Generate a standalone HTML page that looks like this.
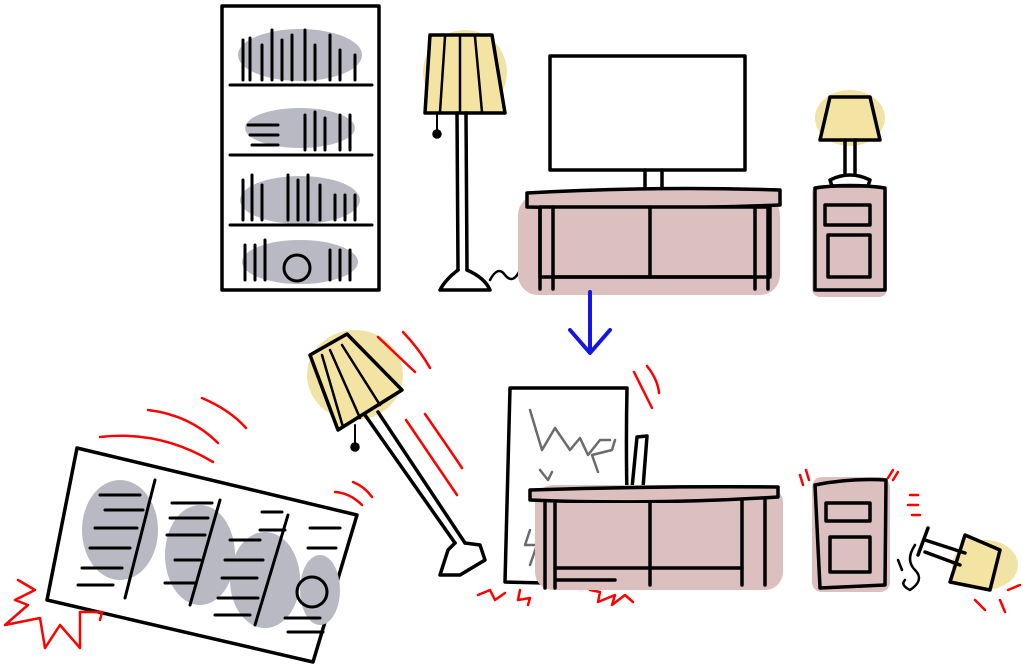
<!DOCTYPE html>
<html><head><meta charset="utf-8"><style>html,body{margin:0;padding:0;background:#fff}svg{display:block}</style></head>
<body>
<svg width="1023" height="670" viewBox="0 0 1023 670" xmlns="http://www.w3.org/2000/svg" fill="none" stroke="#000" stroke-width="3.5" stroke-linecap="round" stroke-linejoin="round">
<!-- TOP BOOKSHELF -->
<rect x="222" y="6" width="157" height="284" fill="#fff"/>
<g fill="#b8b9c2" stroke="none">
<ellipse cx="300" cy="55" rx="62" ry="26"/>
<ellipse cx="300" cy="128" rx="55" ry="20"/>
<ellipse cx="300" cy="200" rx="60" ry="24"/>
<ellipse cx="300" cy="262" rx="58" ry="22"/>
</g>
<g stroke-width="3">
<line x1="230" y1="85" x2="372" y2="85"/><line x1="230" y1="155" x2="372" y2="155"/><line x1="230" y1="225" x2="372" y2="225"/>
<path d="M243 40v40M250 38v42M262 45v35M272 30v50M282 40v40M292 35v45M305 30v50M315 45v35M330 35v45M340 50v30M355 55v25"/>
<path d="M248 125h30M250 135h28M252 145h26M305 115v35M315 112v38M325 118v32M340 115v35M350 115v35"/>
<path d="M243 180v40M252 175v45M262 185v35M288 175v45M298 180v40M308 175v45M320 185v35M335 195v25M345 195v25M355 195v25"/>
<path d="M245 245v35M255 245v35M265 240v40M330 250v30M340 250v30M350 250v30"/>
<circle cx="297" cy="268" r="13"/>
</g>
<!-- FLOOR LAMP -->
<ellipse cx="465" cy="72" rx="42" ry="42" fill="#f1e3a6" stroke="none"/>
<path d="M430 35 L492 35 L505 113 L425 113 Z" fill="#f4e4a3"/>
<path d="M445 37 L440 112M460 37 L460 112M475 37 L482 112" stroke-width="2.5"/>
<path d="M457 113 L458 270 M466 113 L467 270"/>
<path d="M458 270 Q445 280 440 290 L490 290 Q485 278 467 270"/>
<line x1="437" y1="113" x2="437" y2="132" stroke-width="2"/><circle cx="437" cy="134" r="3" fill="#000"/>
<path d="M490 280 q8 -15 15 -5 q8 10 15 -5 q8 -12 25 -15" stroke-width="2.5"/>
<!-- TV -->
<rect x="550" y="56" width="195" height="114" fill="#fff"/>
<path d="M645 170 v18 M662 170 v18"/>
<!-- DESK TOP -->
<rect x="518" y="195" width="262" height="100" rx="20" fill="#dcc0c0" stroke="none"/>
<path d="M527 193 Q650 186 780 190 L780 205 Q650 210 527 207 Z" fill="#dcc0c0"/>
<rect x="540" y="207" width="230" height="70" fill="#dcc0c0"/>
<path d="M540 207 v82 M553 207 v82 M650 207 v70 M755 207 v82 M768 207 v82 M553 277 h202"/>
<!-- NIGHTSTAND -->
<rect x="812" y="185" width="75" height="112" fill="#dcc0c0" stroke="none" rx="8"/>
<path d="M815 188 Q850 183 885 188 L885 290 L815 290 Z" fill="#dcc0c0"/>
<rect x="825" y="205" width="45" height="20"/><rect x="828" y="235" width="42" height="42"/>
<!-- small lamp -->
<ellipse cx="850" cy="118" rx="35" ry="28" fill="#f1e3a6" stroke="none"/>
<path d="M830 97 L870 97 L880 140 L820 140 Z" fill="#f4e4a3"/>
<path d="M845 140 v35 M855 140 v35 M830 180 Q850 170 870 180 L868 186 L832 186 Z"/>
<!-- BLUE ARROW -->
<g stroke="#1515e6" stroke-width="4"><line x1="590" y1="292" x2="590" y2="352"/><path d="M570 330 L590 353 L610 330"/></g>

<!-- BOTTOM BOOKSHELF -->
<path d="M77 448 L357 515 L313 662 L47 600 Z" fill="#fff"/>
<g fill="#b8b9c2" stroke="none">
<ellipse cx="120" cy="530" rx="38" ry="50"/>
<ellipse cx="200" cy="555" rx="35" ry="50"/>
<ellipse cx="265" cy="580" rx="35" ry="48"/>
<ellipse cx="320" cy="590" rx="20" ry="35"/>
</g>
<g stroke-width="3">
<path d="M155 480 L125 598 M220 500 L190 605 M288 515 L255 625"/>
<path d="M100 495h40M105 510h38M95 528h42M90 548h40M82 568h40M78 585h35"/>
<path d="M172 503h40M170 518h38M167 535h38M175 560h25M165 583h30"/>
<path d="M262 512h20M260 530h25M230 540h30M225 560h38M222 578h35M218 598h40M215 615h35"/>
<path d="M310 528h30M308 548h28M285 618h35M288 632h35"/>
<circle cx="312" cy="592" r="15"/>
</g>
<g stroke="#f00" stroke-width="2.5">
<path d="M100 437 Q160 430 213 462"/><path d="M148 410 Q190 415 218 443"/><path d="M202 398 Q230 410 246 428"/>
<path d="M335 492 Q350 493 362 505"/><path d="M353 482 Q365 487 372 497"/>
<path d="M18 580 L35 590 L15 600 L28 605 L5 625 L40 618 L45 648 L60 625 L80 648 L80 612 L102 612 L100 620"/>
</g>
<!-- FALLEN FLOOR LAMP -->
<ellipse cx="355" cy="375" rx="48" ry="45" fill="#f1e3a6" stroke="none"/>
<path d="M310 355 L347 334 L402 390 L338 430 Z" fill="#f4e4a3"/>
<path d="M322 355 L343 427M330 350 L360 418M342 345 L380 405" stroke-width="2.5"/>
<line x1="355" y1="425" x2="355" y2="445" stroke-width="2"/><circle cx="355" cy="447" r="3" fill="#000"/>
<path d="M365 415 L455 543 M378 412 L465 543"/>
<path d="M455 543 L448 550 L440 575 L460 575 L485 560 L480 545 L465 543"/>
<g stroke="#f00" stroke-width="2.5">
<path d="M378 337 L415 372"/><path d="M403 332 Q420 350 430 368"/>
<path d="M406 420 L457 495"/><path d="M425 414 Q450 450 462 468"/>
</g>
<!-- BROKEN TV -->
<path d="M510 388 L627 388 Q625 480 630 585 L505 582 Q508 480 510 388 Z" fill="#fff"/>
<path d="M530 410 L542 450 L555 428 L570 450 L580 438 L588 455 L600 440 L610 440 M540 470 L548 480 L552 472 M598 472 L592 455 L612 450 L615 440 M530 530 L525 545 L537 545 L530 565" stroke="#6b6b6b" stroke-width="2.5"/>
<path d="M637 437 L647 436 L643 488 L632 488 Z" fill="#fff"/>
<g stroke="#f00" stroke-width="2.5"><path d="M634 372 L652 408"/><path d="M647 366 Q658 380 659 393"/>
<path d="M478 595 L490 590 L495 600 L505 593 M520 590 L518 600 L530 598 L528 605 M590 590 L600 592 L598 602 L615 595 L612 605 L625 595 L633 602"/></g>
<!-- BOTTOM DESK -->
<rect x="535" y="485" width="248" height="105" rx="18" fill="#dcc0c0" stroke="none"/>
<path d="M530 490 Q650 486 778 487 L778 497 Q650 505 530 500 Z" fill="#dcc0c0"/>
<rect x="545" y="503" width="220" height="80" fill="#dcc0c0" stroke="none"/>
<path d="M545 503 v85 M555 503 v85 M650 503 v82 M742 500 v85 M765 500 v85 M555 568 h187 M555 580 h60"/>
<!-- BOTTOM NIGHTSTAND -->
<rect x="812" y="477" width="78" height="115" fill="#dcc0c0" stroke="none" rx="10"/>
<path d="M815 485 Q850 478 886 480 L885 585 L820 588 Z" fill="#dcc0c0"/>
<rect x="826" y="503" width="44" height="18"/><rect x="830" y="537" width="40" height="35"/>
<g stroke="#f00" stroke-width="2.5"><path d="M800 475 L803 485 M806 470 L809 480 M888 478 L893 470 M893 480 L898 472 M910 495 L918 495 M908 505 L918 505 M912 515 L920 515"/></g>
<!-- FALLEN SMALL LAMP -->
<ellipse cx="985" cy="565" rx="33" ry="25" fill="#f1e3a6" stroke="none"/>
<path d="M965 535 L1000 550 L990 590 L950 582 Z" fill="#f4e4a3"/>
<path d="M925 540 L965 553 M925 552 L960 565 M918 555 L928 528"/>
<path d="M915 545 Q905 560 915 570 Q925 580 910 590 Q900 585 905 580 M898 560 L902 570" stroke-width="2.5"/>
<g stroke="#f00" stroke-width="2.5"><path d="M975 600 L985 610 M1000 600 L1005 612 M1008 590 L1020 585"/></g>
</svg>
</body></html>
